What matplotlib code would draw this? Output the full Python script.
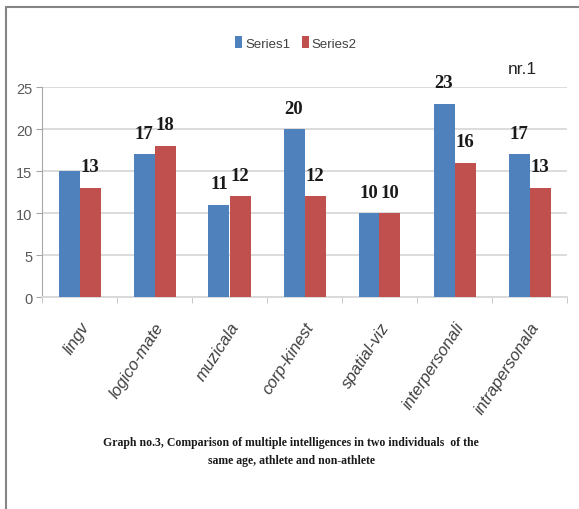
import matplotlib
matplotlib.use("Agg")
import matplotlib.pyplot as plt
from matplotlib.patches import Rectangle
import numpy as np

categories = ["lingv", "logico-mate", "muzicala", "corp-kinest",
              "spatial-viz", "interpersonali", "intrapersonala"]
series1 = [15, 17, 11, 20, 10, 23, 17]
series2 = [13, 18, 12, 12, 10, 16, 13]
# first blue bar carries no value label
hide_s1 = ["lingv"]

BLUE = "#4F81BD"
RED = "#C0504D"

fig = plt.figure(figsize=(5.79, 5.10), dpi=100)
fig.patch.set_facecolor("white")

# chart frame (only the top and left edges fall inside the canvas)
fig.add_artist(Rectangle((6 / 579, -0.1), 1.2, 1 - 8 / 510 + 0.1,
                         transform=fig.transFigure, fill=False,
                         edgecolor="#858585", linewidth=1.5))

ax = fig.add_axes([42 / 579, 1 - 298 / 510, (567 - 42) / 579, (298 - 88) / 510])

x = np.arange(len(categories))
w = 0.28
b1 = ax.bar(x - w / 2, series1, w, color=BLUE, label="Series1", zorder=3)
b2 = ax.bar(x + w / 2, series2, w, color=RED, label="Series2", zorder=3)

lab1 = ["" if c in hide_s1 else str(v) for c, v in zip(categories, series1)]
lab2 = [str(v) for v in series2]
lab_font = dict(family="Liberation Serif", weight="bold", size=13.5, color="#1a1a1a")
ax.bar_label(b1, labels=lab1, padding=9, **lab_font)
ax.bar_label(b2, labels=lab2, padding=9, **lab_font)

ax.set_xlim(-0.5, len(categories) - 0.5)
ax.set_ylim(0, 25)
ax.set_yticks(range(0, 26, 5))
ax.yaxis.grid(True, color="#d9d9d9", linewidth=1.3, zorder=0)
ax.set_axisbelow(True)

for side in ["top", "right"]:
    ax.spines[side].set_visible(False)
ax.spines["left"].set_color("#a6a6a6")
ax.spines["bottom"].set_color("#d9d9d9")
ax.spines["bottom"].set_linewidth(1.3)

ax.tick_params(axis="y", direction="out", length=4, color="#a6a6a6",
               pad=3, labelsize=10.5, labelcolor="#595959")
for t in ax.get_yticklabels():
    t.set_family("Liberation Sans")

ax.set_xticks(x)
ax.set_xticklabels(categories, rotation=57, ha="right", va="top",
                   rotation_mode="anchor", fontsize=12, style="italic",
                   family="Liberation Sans", color="#404040")
ax.tick_params(axis="x", length=0, pad=16)
ax.set_xticks(np.arange(-0.5, len(categories)), minor=True)
ax.tick_params(axis="x", which="minor", length=4, color="#bfbfbf", direction="out")

fig.legend(handles=[b1, b2], labels=["Series1", "Series2"], loc="center",
           bbox_to_anchor=(296 / 579, 1 - 44 / 510), ncol=2, frameon=False,
           prop={"family": "Liberation Sans", "size": 9.5},
           handlelength=0.5, handleheight=1.0, handletextpad=0.25,
           columnspacing=0.9, labelcolor="#404040")

fig.text(522 / 579, 1 - 69 / 510, "nr.1", ha="center", va="center",
         fontsize=12.5, family="Liberation Sans", color="#262626")

fig.text(291 / 579, 1 - 452 / 510,
         "Graph no.3, Comparison of multiple intelligences in two individuals  of the\n"
         "same age, athlete and non-athlete",
         ha="center", va="center", multialignment="center", linespacing=1.6,
         family="Liberation Serif", weight="bold", fontsize=8.5, color="#1a1a1a")

fig.savefig("out.png", dpi=100)
